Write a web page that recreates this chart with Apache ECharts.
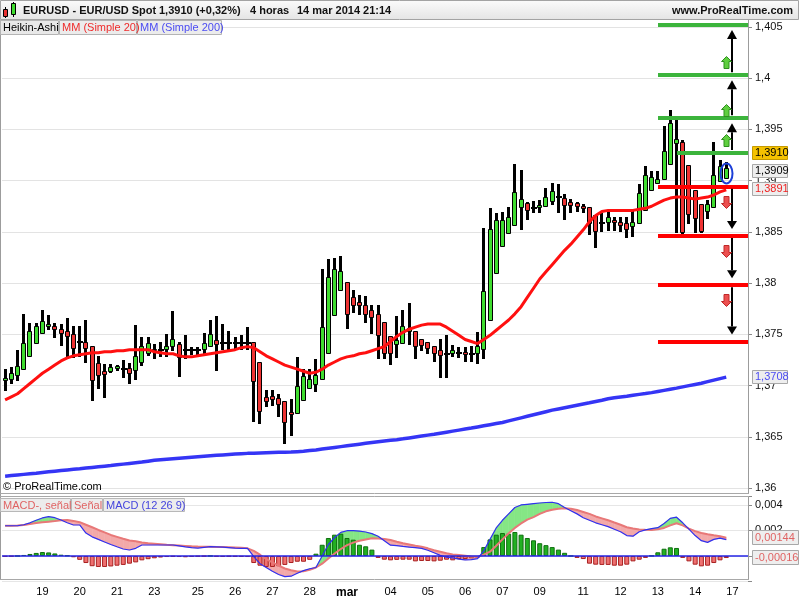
<!DOCTYPE html>
<html>
<head>
<meta charset="utf-8">
<script src="https://cdn.jsdelivr.net/npm/echarts@6.0.0/dist/echarts.min.js"></script>
<style>
html,body{margin:0;padding:0;background:#ffffff;}
#chart{width:800px;height:600px;}
</style>
</head>
<body>
<div id="chart"></div>
<script>
// ---------- DATA ----------
const slotCount = 120; // 4-hour slots on the time axis (incl. empty future slots)
const dayTickIndex = [6,12,18,24,31,37,43,49,55,62,68,74,80,86,93,99,105,111,117];
const dayTickText  = ['19','20','21','23','25','26','27','28','mar','04','05','06','07','09','11','12','13','14','17'];
const priceTicks = [1.36,1.365,1.37,1.375,1.38,1.385,1.39,1.395,1.4,1.405];

const haOpen = [1.3704,1.3705,1.3709,1.3715,1.3728,1.3741,1.3750,1.3757,1.3758,1.3755,
 1.3753,1.3750,1.3743,1.3743,1.3739,1.3722,1.3714,1.3713,1.3716,1.3716,
 1.3717,1.3714,1.3722,1.3731,1.3734,1.3735,1.3735,1.3738,1.3741,1.3735,
 1.3735,1.3735,1.3735,1.3738,1.3744,1.3742,1.3742,1.3742,1.3742,1.3742,
 1.3743,1.3723,1.3689,1.3690,1.3688,1.3685,1.3674,1.3672,1.3685,1.3697,
 1.3701,1.3705,1.3731,1.3768,1.3792,1.3801,1.3786,1.3782,1.3779,1.3774,
 1.3770,1.3762,1.3748,1.3740,1.3741,1.3752,1.3753,1.3745,1.3743,1.3739,
 1.3735,1.3731,1.3731,1.3732,1.3733,1.3731,1.3731,1.3735,1.3763,1.3809,
 1.3835,1.3848,1.3856,1.3873,1.3878,1.3873,1.3873,1.3874,1.3879,1.3884,
 1.3883,1.3879,1.3878,1.3875,1.3874,1.3866,1.3859,1.3859,1.3862,1.3860,
 1.3859,1.3855,1.3858,1.3870,1.3890,1.3897,1.3901,1.3915,1.3936,1.3938,
 1.3915,1.3891,1.3877,1.3869,1.3873,1.3899,1.3902];
const haClose = [1.3707,1.3712,1.3719,1.3742,1.3753,1.3758,1.3763,1.3760,1.3754,1.3750,
 1.3747,1.3736,1.3743,1.3736,1.3704,1.3709,1.3710,1.3718,1.3719,1.3716,
 1.3711,1.3729,1.3739,1.3742,1.3736,1.3735,1.3739,1.3745,1.3727,1.3735,
 1.3735,1.3735,1.3742,1.3750,1.3740,1.3742,1.3742,1.3742,1.3742,1.3742,
 1.3703,1.3674,1.3684,1.3686,1.3681,1.3663,1.3671,1.3700,1.3709,1.3706,
 1.3710,1.3757,1.3806,1.3814,1.3812,1.3769,1.3778,1.3778,1.3769,1.3766,
 1.3748,1.3731,1.3731,1.3744,1.3758,1.3756,1.3738,1.3739,1.3736,1.3731,
 1.3729,1.3731,1.3735,1.3732,1.3730,1.3731,1.3739,1.3792,1.3853,1.3862,
 1.3862,1.3865,1.3889,1.3882,1.3870,1.3873,1.3876,1.3884,1.3890,1.3884,
 1.3875,1.3875,1.3874,1.3872,1.3858,1.3850,1.3859,1.3865,1.3859,1.3856,
 1.3852,1.3860,1.3888,1.3906,1.3904,1.3902,1.3929,1.3956,1.3941,1.3849,
 1.3866,1.3863,1.3850,1.3877,1.3906,1.3914,1.3912];
const haHigh = [1.3716,1.3718,1.3735,1.3770,1.3761,1.3761,1.3774,1.3769,1.3761,1.3760,
 1.3766,1.3758,1.3758,1.3764,1.3739,1.3729,1.3721,1.3721,1.3720,1.3725,
 1.3722,1.3759,1.3747,1.3747,1.3741,1.3743,1.3750,1.3773,1.3743,1.3749,
 1.3738,1.3738,1.3751,1.3764,1.3768,1.3760,1.3753,1.3747,1.3749,1.3757,
 1.3743,1.3723,1.3696,1.3696,1.3692,1.3685,1.3687,1.3728,1.3716,1.3716,
 1.3726,1.3814,1.3824,1.3825,1.3826,1.3801,1.3793,1.3788,1.3787,1.3779,
 1.3779,1.3762,1.3748,1.3768,1.3774,1.3781,1.3753,1.3745,1.3743,1.3739,
 1.3745,1.3749,1.3740,1.3738,1.3738,1.3739,1.3752,1.3854,1.3873,1.3868,
 1.3869,1.3874,1.3916,1.3910,1.3879,1.3880,1.3881,1.3893,1.3898,1.3897,
 1.3887,1.3882,1.3879,1.3877,1.3874,1.3866,1.3868,1.3870,1.3865,1.3865,
 1.3865,1.3871,1.3897,1.3914,1.3909,1.3909,1.3953,1.3969,1.3961,1.3940,
 1.3915,1.3891,1.3877,1.3881,1.3938,1.3920,1.3918];
const haLow = [1.3695,1.3702,1.3704,1.3715,1.3728,1.3741,1.3750,1.3754,1.3746,1.3739,
 1.3726,1.3727,1.3728,1.3722,1.3685,1.3697,1.3688,1.3712,1.3714,1.3707,
 1.3702,1.3705,1.3719,1.3729,1.3726,1.3728,1.3728,1.3734,1.3708,1.3726,
 1.3730,1.3730,1.3730,1.3738,1.3714,1.3735,1.3735,1.3735,1.3735,1.3735,
 1.3664,1.3662,1.3679,1.3680,1.3669,1.3643,1.3651,1.3672,1.3685,1.3697,
 1.3694,1.3705,1.3731,1.3768,1.3792,1.3755,1.3771,1.3769,1.3761,1.3750,
 1.3726,1.3726,1.3720,1.3727,1.3741,1.3740,1.3726,1.3734,1.3731,1.3723,
 1.3707,1.3707,1.3728,1.3727,1.3723,1.3723,1.3721,1.3726,1.3763,1.3809,
 1.3835,1.3848,1.3856,1.3852,1.3862,1.3868,1.3868,1.3874,1.3876,1.3868,
 1.3862,1.3868,1.3869,1.3868,1.3847,1.3834,1.3850,1.3851,1.3851,1.3850,
 1.3844,1.3845,1.3858,1.3870,1.3890,1.3897,1.3901,1.3915,1.3849,1.3847,
 1.3858,1.3849,1.3849,1.3863,1.3873,1.3899,1.3902];

const ma20 = [1.3686,1.3689,1.3692,1.3697,1.3702,1.3707,1.3712,1.3716,1.3720,1.3724,
 1.3727,1.3729,1.3730,1.3731,1.3732,1.3732,1.3733,1.3733,1.3734,1.3734,
 1.3735,1.3735,1.3735,1.3735,1.3733,1.3732,1.3731,1.3731,1.3729,1.3728,
 1.3728,1.3729,1.3730,1.3731,1.3732,1.3733,1.3734,1.3735,1.3737,1.3738,
 1.3737,1.3733,1.3729,1.3726,1.3723,1.3720,1.3718,1.3716,1.3714,1.3712,
 1.3713,1.3716,1.3720,1.3723,1.3726,1.3728,1.3729,1.3731,1.3732,1.3734,
 1.3736,1.3738,1.3743,1.3748,1.3752,1.3755,1.3757,1.3759,1.3760,1.3760,
 1.3760,1.3757,1.3753,1.3749,1.3745,1.3743,1.3741,1.3745,1.3749,1.3754,
 1.3759,1.3764,1.3770,1.3777,1.3786,1.3795,1.3804,1.3811,1.3818,1.3825,
 1.3832,1.3838,1.3845,1.3852,1.3860,1.3866,1.3870,1.3871,1.3871,1.3871,
 1.3871,1.3871,1.3872,1.3873,1.3875,1.3878,1.3881,1.3883,1.3884,1.3884,
 1.3883,1.3882,1.3883,1.3884,1.3886,1.3889,1.3891];
const ma200 = [1.36115,1.36121,1.36127,1.36133,1.36139,1.36145,1.36152,1.36158,1.36164,1.36170,
 1.36176,1.36182,1.36188,1.36195,1.36201,1.36207,1.36213,1.36219,1.36226,1.36233,
 1.36240,1.36247,1.36254,1.36262,1.36270,1.36276,1.36281,1.36286,1.36291,1.36296,
 1.36301,1.36306,1.36311,1.36315,1.36319,1.36323,1.36327,1.36331,1.36335,1.36338,
 1.36340,1.36342,1.36344,1.36346,1.36348,1.36350,1.36352,1.36355,1.36358,1.36365,
 1.36372,1.36380,1.36388,1.36396,1.36404,1.36412,1.36420,1.36428,1.36436,1.36444,
 1.36451,1.36458,1.36465,1.36472,1.36480,1.36489,1.36498,1.36507,1.36516,1.36525,
 1.36535,1.36545,1.36555,1.36565,1.36575,1.36585,1.36596,1.36607,1.36618,1.36629,
 1.36640,1.36655,1.36670,1.36685,1.36700,1.36715,1.36730,1.36745,1.36760,1.36772,
 1.36784,1.36796,1.36808,1.36820,1.36832,1.36845,1.36857,1.36871,1.36880,1.36888,
 1.36896,1.36905,1.36914,1.36922,1.36931,1.36942,1.36953,1.36964,1.36975,1.36987,
 1.36999,1.37011,1.37023,1.37038,1.37053,1.37068,1.37082];

const macdLine = [0.00237,0.00237,0.00237,0.00245,0.0026,0.0028,0.00298,0.00308,0.0030,0.00282,
 0.0026,0.00243,0.00243,0.0018,0.0015,0.0013,0.0011,0.0009,0.00072,0.00055,
 0.00047,0.0006,0.00086,0.00086,0.00086,0.00086,0.00086,0.00086,0.0008,0.00072,
 0.00065,0.00062,0.00068,0.00073,0.00072,0.0007,0.00066,0.00062,0.0006,0.0006,
 -0.00005,-0.0006,-0.0009,-0.0012,-0.00145,-0.00162,-0.00158,-0.00135,-0.00115,-0.001,
 -0.0009,0.0000,0.0009,0.00145,0.00185,0.00198,0.00198,0.00195,0.00188,0.00175,
 0.00155,0.0012,0.00085,0.00081,0.00075,0.0007,0.00065,0.0006,0.00045,0.00025,
 0.00005,-0.0001,-0.00015,-0.00025,-0.00031,-0.00028,-0.0002,0.0004,0.0013,0.0022,
 0.0028,0.0033,0.0038,0.0040,0.00405,0.0041,0.00415,0.00419,0.00421,0.0041,
 0.0038,0.00355,0.0033,0.0030,0.0028,0.0026,0.00245,0.0023,0.0021,0.0019,
 0.0016,0.00155,0.0019,0.00205,0.00215,0.00222,0.00255,0.00295,0.00304,0.0026,
 0.0021,0.0016,0.0012,0.00107,0.0013,0.0014,0.00128];
const signalLine = [0.00237,0.00237,0.00238,0.00242,0.0025,0.00258,0.00264,0.00269,0.00274,0.0028,
 0.00282,0.00275,0.00265,0.00245,0.00225,0.00204,0.00185,0.00165,0.0015,0.00135,
 0.00122,0.00115,0.00105,0.0010,0.00096,0.00092,0.00088,0.00085,0.00082,0.00079,
 0.00076,0.00074,0.00073,0.00072,0.00071,0.0007,0.00068,0.00066,0.00064,0.0006,
 0.0004,0.0001,-0.00025,-0.0005,-0.00075,-0.00098,-0.00112,-0.00122,-0.0012,-0.00108,
 -0.0009,-0.0006,-0.0002,0.0002,0.00055,0.00085,0.00105,0.0012,0.0013,0.00139,
 0.00138,0.00133,0.00125,0.00112,0.0010,0.0009,0.0008,0.00072,0.0006,0.00045,
 0.00034,0.00022,0.00012,0.00007,0.00002,-0.00003,-0.00005,0.0001,0.00034,0.0008,
 0.0013,0.00178,0.0022,0.00255,0.00285,0.00305,0.0033,0.0035,0.00362,0.0037,
 0.00374,0.0037,0.0036,0.00345,0.0033,0.0031,0.00295,0.0028,0.00262,0.00245,
 0.00225,0.00215,0.00208,0.00205,0.00204,0.0021,0.0022,0.0024,0.00256,0.0024,
 0.00215,0.00195,0.0018,0.0017,0.00162,0.00155,0.00144];
const histogram = [-0.00005,-0.00003,0,0.00008,0.00016,0.00024,0.00031,0.00028,0.0002,0.0001,
 0.00004,-0.0001,-0.0003,-0.00055,-0.0008,-0.00086,-0.00086,-0.00082,-0.00076,-0.0007,
 -0.0006,-0.0005,-0.00034,-0.00025,-0.00018,-0.00012,-0.00008,-0.00005,-0.00008,-0.0001,
 -0.00006,-0.00004,-0.00002,0,-0.00005,-0.00006,-0.00004,-0.00005,-0.00006,-0.00008,
 -0.00055,-0.00076,-0.00086,-0.00086,-0.0008,-0.0007,-0.00055,-0.00045,-0.00045,-0.0003,
 0.00018,0.00088,0.00141,0.00167,0.00175,0.00141,0.00128,0.00088,0.00076,0.0005,
 -0.00015,-0.00029,-0.00034,-0.0003,-0.00029,-0.00029,-0.00042,-0.00039,-0.00039,-0.00042,
 -0.00037,-0.00029,-0.00034,-0.00024,-0.00024,-0.00018,-0.00013,0.0007,0.0013,0.00167,
 0.0018,0.00175,0.00188,0.00167,0.00141,0.00123,0.0010,0.00085,0.0007,0.0005,
 0.00025,0,-0.00015,-0.00024,-0.0006,-0.00068,-0.0007,-0.0007,-0.00076,-0.00076,
 -0.00068,-0.00042,-0.00029,-0.00015,0.00002,0.00029,0.00057,0.00068,0.00063,-0.00015,
 -0.00042,-0.00068,-0.00081,-0.00076,-0.00055,-0.00034,-0.00016];

// drawn support / resistance levels (start slot, price)
const resistLevels = [1.4052, 1.4003, 1.3961, 1.3927];
const resistStart  = [105, 105, 105, 108];
const supportLevels = [1.3894, 1.3846, 1.3798, 1.3743];
const supportStart  = [105, 105, 105, 105];
const arrowSlot = 117;
const blockUpLevels = [1.4016, 1.3969, 1.3940];
const blockDownLevels = [1.3879, 1.3831, 1.3784];
const blockSlot = 116;
const lastPrice = 1.3910, lastHa = 1.3909, lastMa20 = 1.3891, lastMa200 = 1.3708;
const lastSignal = 0.00144, lastHist = -0.00016;

// ---------- CHART ----------
const slots = Array.from({length: slotCount}, (_, i) => 's' + i);
const tickMap = {};
dayTickIndex.forEach((ix, k) => { tickMap[ix] = dayTickText[k]; });
const fmtAxis = v => String(+v.toFixed(5)).replace('.', ',');
const fmtFix = (v, d) => v.toFixed(d).replace('.', ',');

const GREEN = '#3fdc2f', RED = '#ee3333';
const FONT = '"Liberation Sans", Arial, sans-serif';

const chart = echarts.init(document.getElementById('chart'), null, {renderer: 'canvas'});

const candleData = haOpen.map((o, i) => [i, o, haClose[i], haLow[i], haHigh[i]]);
const levelData = resistLevels.map((v, k) => [resistStart[k], v, 1])
  .concat(supportLevels.map((v, k) => [supportStart[k], v, 0]));
const arrowData = [];
const rs = resistLevels.slice().sort((a, b) => a - b);
for (let k = 0; k < rs.length - 1; k++) arrowData.push([arrowSlot, rs[k], rs[k + 1]]);
const ss = supportLevels.slice().sort((a, b) => b - a);
for (let k = 0; k < ss.length - 1; k++) arrowData.push([arrowSlot, ss[k], ss[k + 1]]);
const blockData = blockUpLevels.map(v => [blockSlot, v, 1]).concat(blockDownLevels.map(v => [blockSlot, v, -1]));
const fillData = [];
for (let i = 0; i < macdLine.length - 1; i++) fillData.push([i, macdLine[i], signalLine[i], macdLine[i + 1], signalLine[i + 1]]);

const option = {
  animation: false,
  backgroundColor: '#ffffff',
  grid: [
    {left: 2, right: 52, top: 27, height: 461, outerBoundsMode: 'none'},
    {left: 2, right: 52, top: 496, height: 85.53, outerBoundsMode: 'none'}
  ],
  xAxis: [
    {type: 'category', gridIndex: 0, data: slots, boundaryGap: true,
     axisLine: {show: false}, axisTick: {show: false}, axisLabel: {show: false}, splitLine: {show: false}},
    {type: 'category', gridIndex: 1, data: slots, boundaryGap: true,
     axisLine: {show: false}, axisTick: {show: false}, splitLine: {show: false},
     axisLabel: {show: true, interval: 0, margin: 5, fontSize: 11, color: '#000', fontFamily: FONT,
       formatter: (v, idx) => { const t = tickMap[idx]; if (!t) return ''; return t === 'mar' ? '{b|mar}' : t; },
       rich: {b: {fontWeight: 'bold', fontSize: 12, fontFamily: FONT, color: '#000'}}}}
  ],
  yAxis: [
    {type: 'value', gridIndex: 0, position: 'right', min: priceTicks[0], max: priceTicks[priceTicks.length - 1], interval: 0.005,
     axisLine: {show: false}, axisTick: {show: true, length: 4, lineStyle: {color: '#8a8a8a'}},
     axisLabel: {margin: 7, fontSize: 11, color: '#111', fontFamily: FONT, formatter: v => fmtAxis(v)},
     splitLine: {show: true, lineStyle: {color: '#e3e3e3', width: 1}}},
    {type: 'value', gridIndex: 1, position: 'right', min: -0.002, max: 0.0047, interval: 0.002,
     axisLine: {show: false}, axisTick: {show: true, length: 4, lineStyle: {color: '#8a8a8a'}},
     axisLabel: {margin: 7, fontSize: 11, color: '#111', fontFamily: FONT,
       formatter: v => (Math.abs(v - 0.004) < 1e-9 ? '0,004' : (Math.abs(v - 0.002) < 1e-9 ? '0,002' : ''))},
     splitLine: {show: true, lineStyle: {color: '#e6e6e6', width: 1}}}
  ],
  series: [
    { // Heikin-Ashi candles
      type: 'custom', xAxisIndex: 0, yAxisIndex: 0, data: candleData, encode: {x: 0, y: [1, 2, 3, 4]}, z: 2,
      renderItem: (params, api) => {
        const i = api.value(0), o = api.value(1), c = api.value(2), lo = api.value(3), hi = api.value(4);
        const po = api.coord([i, o]), pc = api.coord([i, c]), pl = api.coord([i, lo]), ph = api.coord([i, hi]);
        const xc = Math.round(po[0] - 0.5);
        const yH = Math.round(ph[1]), yL = Math.round(pl[1]);
        const yT = Math.round(Math.min(po[1], pc[1])), yB = Math.round(Math.max(po[1], pc[1]));
        const ch = [{type: 'rect', shape: {x: xc - 1, y: yH, width: 3, height: Math.max(1, yL - yH)}, style: {fill: '#000'}}];
        if (yB - yT < 2) {
          ch.push({type: 'rect', shape: {x: xc - 2, y: yT - 1, width: 6, height: 2}, style: {fill: '#000'}});
        } else {
          ch.push({type: 'rect', shape: {x: xc - 1.5, y: yT + 0.5, width: 4, height: yB - yT - 1},
                   style: {fill: c > o ? GREEN : RED, stroke: '#000', lineWidth: 1}});
        }
        return {type: 'group', children: ch};
      }
    },
    {type: 'line', name: 'MM20', xAxisIndex: 0, yAxisIndex: 0, data: ma20, showSymbol: false, z: 3,
     lineStyle: {color: '#ff1010', width: 3}, itemStyle: {color: '#ff1010'}},
    {type: 'line', name: 'MM200', xAxisIndex: 0, yAxisIndex: 0, data: ma200, showSymbol: false, z: 3,
     lineStyle: {color: '#3535f5', width: 3.5}, itemStyle: {color: '#3535f5'}},
    { // horizontal drawn levels
      type: 'custom', xAxisIndex: 0, yAxisIndex: 0, data: levelData, encode: {x: 0, y: 1}, z: 4, clip: false,
      renderItem: (params, api) => {
        const p = api.coord([api.value(0), api.value(1)]);
        const right = params.coordSys.x + params.coordSys.width;
        const x0 = Math.round(p[0]), y = Math.round(p[1]);
        return {type: 'rect', shape: {x: x0, y: y - 2, width: right - x0, height: 4},
                style: {fill: api.value(2) ? '#3cb43c' : '#ff0000'}};
      }
    },
    { // black arrows between levels
      type: 'custom', xAxisIndex: 0, yAxisIndex: 0, data: arrowData, encode: {x: 0, y: [1, 2]}, z: 5, clip: false,
      renderItem: (params, api) => {
        const i = api.value(0), a = api.value(1), b = api.value(2);
        const pa = api.coord([i, a]), pb = api.coord([i, b]);
        const x = Math.round(pa[0]);
        const up = b > a;
        const y0 = up ? pa[1] - 3 : pa[1] + 2;
        const tip = up ? pb[1] + 5 : pb[1] - 7;
        const base = up ? tip + 9 : tip - 8;
        return {type: 'group', children: [
          {type: 'line', shape: {x1: x, y1: y0, x2: x, y2: base}, style: {stroke: '#000', lineWidth: 2}},
          {type: 'polygon', shape: {points: [[x, tip], [x - 5, base], [x + 5, base]]}, style: {fill: '#000'}}
        ]};
      }
    },
    { // small block arrows
      type: 'custom', xAxisIndex: 0, yAxisIndex: 0, data: blockData, encode: {x: 0, y: 1}, z: 5, clip: false,
      renderItem: (params, api) => {
        const p = api.coord([api.value(0), api.value(1)]);
        const s = api.value(2);
        const cx = Math.round(p[0]) + 0.5, cy = Math.round(p[1]) + 0.5;
        const pts = [[cx, cy - 6 * s], [cx + 5, cy - 1 * s], [cx + 2.5, cy - 1 * s], [cx + 2.5, cy + 6 * s],
                     [cx - 2.5, cy + 6 * s], [cx - 2.5, cy - 1 * s], [cx - 5, cy - 1 * s]];
        return {type: 'polygon', shape: {points: pts},
                style: {fill: s > 0 ? '#5fcf3f' : '#ec5050', stroke: s > 0 ? '#2f8f1f' : '#c02828', lineWidth: 1}};
      }
    },
    { // MACD / signal filled band
      type: 'custom', xAxisIndex: 1, yAxisIndex: 1, data: fillData, encode: {x: 0, y: [1, 2]}, z: 1,
      renderItem: (params, api) => {
        const i = api.value(0);
        const m0 = api.value(1), s0 = api.value(2), m1 = api.value(3), s1 = api.value(4);
        const A = api.coord([i, m0]), B = api.coord([i + 1, m1]), C = api.coord([i + 1, s1]), D = api.coord([i, s0]);
        const d0 = m0 - s0, d1 = m1 - s1;
        const col = d => (d >= 0 ? '#85e685' : '#f3a9a9');
        const st = c => ({fill: c, stroke: c, lineWidth: 0.6});
        if (d0 * d1 >= 0) {
          return {type: 'polygon', shape: {points: [A, B, C, D]}, style: st(col(d0 + d1))};
        }
        const t = d0 / (d0 - d1);
        const X = [A[0] + t * (B[0] - A[0]), A[1] + t * (B[1] - A[1])];
        return {type: 'group', children: [
          {type: 'polygon', shape: {points: [A, X, D]}, style: st(col(d0))},
          {type: 'polygon', shape: {points: [X, B, C]}, style: st(col(d1))}
        ]};
      }
    },
    {type: 'bar', xAxisIndex: 1, yAxisIndex: 1, barWidth: 5, z: 2,
     data: histogram.map(v => ({value: v, itemStyle: {color: v >= 0 ? '#22b022' : '#ee7070', borderColor: v >= 0 ? '#0f6f0f' : '#a82020', borderWidth: 1}})),
     markLine: {silent: true, symbol: ['none', 'none'], label: {show: false},
       lineStyle: {color: '#2424e6', width: 1.5, type: 'solid'}, data: [{yAxis: 0}]}},
    {type: 'line', xAxisIndex: 1, yAxisIndex: 1, data: signalLine, showSymbol: false, z: 3,
     lineStyle: {color: '#e87878', width: 2}},
    {type: 'line', xAxisIndex: 1, yAxisIndex: 1, data: macdLine, showSymbol: false, z: 4,
     lineStyle: {color: '#3030f0', width: 1.2}}
  ]
};
chart.setOption(option);

// ---------- decorations / frame (positions from the library's own scales) ----------
const py = v => chart.convertToPixel({yAxisIndex: 0}, v);
const my = v => chart.convertToPixel({yAxisIndex: 1}, v);
const px = i => chart.convertToPixel({xAxisIndex: 0}, i);

const g = [];
const Z = 100;
const line = (x1, y1, x2, y2, color, w) => g.push({type: 'line', z: Z, silent: true, shape: {x1, y1, x2, y2}, style: {stroke: color, lineWidth: w || 1}});
const txt = (x, y, text, font, fill, align) => g.push({type: 'text', z: Z + 2, silent: true, x, y,
  style: {text, font, fill, align: align || 'left', verticalAlign: 'middle'}});
const box = (x, y, w, h, fill, stroke) => g.push({type: 'rect', z: Z + 1, silent: true, shape: {x, y, width: w, height: h}, style: {fill, stroke, lineWidth: 1}});

// header bar
g.push({type: 'rect', z: Z, silent: true, shape: {x: 0.5, y: 0.5, width: 798, height: 19},
  style: {fill: {type: 'linear', x: 0, y: 0, x2: 0, y2: 1, colorStops: [{offset: 0, color: '#fbfbfb'}, {offset: 1, color: '#e4e4e4'}]}, stroke: '#a3a3a3', lineWidth: 1}});
// little candle icon
g.push({type: 'rect', z: Z + 1, shape: {x: 5, y: 7, width: 1, height: 11}, style: {fill: '#000'}});
g.push({type: 'rect', z: Z + 2, shape: {x: 3.5, y: 9.5, width: 4, height: 7}, style: {fill: '#e83030', stroke: '#000', lineWidth: 1}});
g.push({type: 'rect', z: Z + 1, shape: {x: 13, y: 2, width: 1, height: 15}, style: {fill: '#000'}});
g.push({type: 'rect', z: Z + 2, shape: {x: 11.5, y: 3.5, width: 4, height: 11}, style: {fill: '#3fdc2f', stroke: '#000', lineWidth: 1}});
const HF = 'bold 11px ' + FONT;
txt(23, 11, 'EURUSD - EUR/USD Spot', HF, '#111');
txt(159, 11, '1,3910 (+0,32%)', HF, '#111');
txt(250, 11, '4 horas', HF, '#111');
txt(297, 11, '14 mar 2014 21:14', HF, '#111');
txt(793, 11, 'www.ProRealTime.com', HF, '#111', 'right');

// legend tabs (price panel)
const TF = '11px ' + FONT;
box(0.5, 20.5, 58, 14, '#e8e8e8', '#b4b4b4'); txt(3, 28, 'Heikin-Ashi', TF, '#000');
box(59.5, 20.5, 77, 14, '#ececec', '#b4b4b4'); txt(62, 28, 'MM (Simple 20)', TF, '#ee2b2b');
box(137.5, 20.5, 84, 14, '#ececec', '#b4b4b4'); txt(140, 28, 'MM (Simple 200)', TF, '#4c4cf2');

// frame lines
line(0.5, 20, 0.5, 580, '#9c9c9c');
line(748.5, 20, 748.5, 494, '#9c9c9c');
line(748.5, 496, 748.5, 580, '#9c9c9c');
line(0, 493.5, 749, 493.5, '#a8a8a8');
line(0, 496.5, 749, 496.5, '#a8a8a8');
line(0, 579.5, 749, 579.5, '#a8a8a8');

txt(3, 487, '\u00a9 ProRealTime.com', TF, '#000');

// MACD tabs
box(0.5, 498.5, 70, 13, '#ececec', '#b8b8b8'); txt(3, 505.5, 'MACD-, se\u00f1al', TF, '#e06464');
box(71.5, 498.5, 31, 13, '#ececec', '#b8b8b8'); txt(74, 505.5, 'Se\u00f1al', TF, '#e06464');
box(103.5, 498.5, 81, 13, '#ececec', '#b8b8b8'); txt(106, 505.5, 'MACD (12 26 9)', TF, '#4444dd');

// right side value boxes
const LF = '11px ' + FONT;
const yHa = Math.round(py(lastHa));
box(752.5, yHa - 24.5, 35, 13, '#f5c200', '#c59a00'); txt(755, yHa - 18, fmtFix(lastPrice, 4), LF, '#000');
box(752.5, yHa - 6.5, 35, 13, '#eeeeee', '#a8a8a8'); txt(755, yHa, fmtFix(lastHa, 4), LF, '#000');
const yMa = Math.round(py(lastMa20));
box(752.5, yMa - 7.5, 35, 13, '#eeeeee', '#a8a8a8'); txt(755, yMa - 1, fmtFix(lastMa20, 4), LF, '#ee2222');
const yMb = Math.round(py(lastMa200));
box(752.5, yMb - 6.5, 35, 13, '#eeeeee', '#a8a8a8'); txt(755, yMb, fmtFix(lastMa200, 4), LF, '#4c4cf2');
const ySg = Math.round(my(lastSignal));
box(752.5, ySg - 7.5, 46, 14, '#eeeeee', '#a8a8a8'); txt(755, ySg - 0.5, fmtFix(lastSignal, 5), LF, '#e06464');
const yHs = Math.round(my(lastHist));
box(752.5, yHs - 7.5, 46, 14, '#eeeeee', '#a8a8a8'); txt(755, yHs - 0.5, fmtFix(lastHist, 5), LF, '#e06464');

// blue ellipse around the last candle
g.push({type: 'ellipse', z: Z, silent: true,
  shape: {cx: Math.round(px(haOpen.length - 1)) + 0.5, cy: py((haOpen[haOpen.length - 1] + haClose[haClose.length - 1]) / 2), rx: 6, ry: 10},
  style: {fill: 'rgba(0,0,0,0)', stroke: '#1c3fd8', lineWidth: 2}});

chart.setOption({graphic: {elements: g}});
</script>
</body>
</html>
